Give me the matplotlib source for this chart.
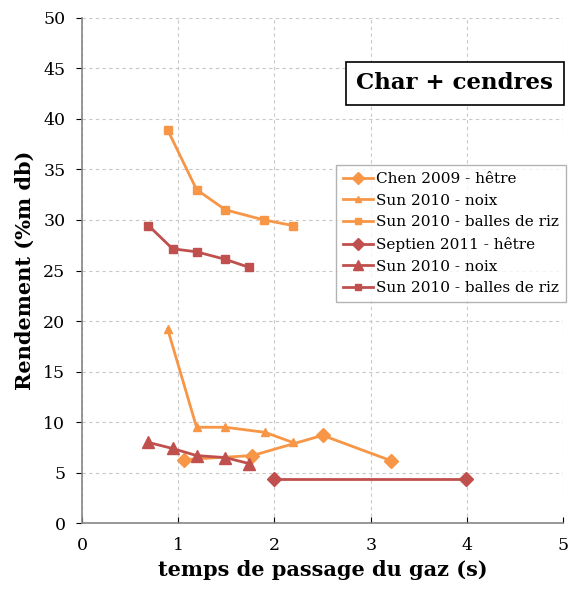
import matplotlib.pyplot as plt

plt.rcParams['font.family'] = ['DejaVu Serif']

orange = '#F79646'
red = '#C0504D'

# Chen 2009 - hetre
chen_x = [1.06, 1.77, 2.50, 3.21]
chen_y = [6.3, 6.7, 8.7, 6.2]
# Sun 2010 - noix (orange)
noix_x = [0.89, 1.19, 1.49, 1.90, 2.19]
noix_y = [19.2, 9.5, 9.5, 9.0, 8.0]
# Sun 2010 - balles de riz (orange)
riz_x = [0.89, 1.19, 1.49, 1.89, 2.19]
riz_y = [38.9, 33.0, 31.0, 30.0, 29.45]
# Septien 2011 - hetre
sept_x = [1.99, 3.99]
sept_y = [4.4, 4.4]
# Sun 2010 - noix (red)
noix2_x = [0.69, 0.94, 1.19, 1.49, 1.74]
noix2_y = [8.0, 7.4, 6.7, 6.5, 5.9]
# Sun 2010 - balles de riz (red)
riz2_x = [0.69, 0.94, 1.19, 1.49, 1.74]
riz2_y = [29.45, 27.15, 26.85, 26.1, 25.3]

fig = plt.figure(figsize=(5.74, 5.9), dpi=100)
ax = fig.add_axes([0.143, 0.113, 0.838, 0.857])

ax.plot(chen_x, chen_y, color=orange, lw=2, marker='D', ms=7.5, label='Chen 2009 - hêtre')
ax.plot(noix_x, noix_y, color=orange, lw=2, marker='^', ms=6, label='Sun 2010 - noix')
ax.plot(riz_x, riz_y, color=orange, lw=2, marker='s', ms=6, label='Sun 2010 - balles de riz')
ax.plot(sept_x, sept_y, color=red, lw=2, marker='D', ms=7.5, label='Septien 2011 - hêtre')
ax.plot(noix2_x, noix2_y, color=red, lw=2, marker='^', ms=9, label='Sun 2010 - noix')
ax.plot(riz2_x, riz2_y, color=red, lw=2, marker='s', ms=6, label='Sun 2010 - balles de riz')

ax.set_xlim(0, 5)
ax.set_ylim(0, 50)
ax.set_xticks(range(0, 6))
ax.set_yticks(range(0, 51, 5))
ax.grid(True, color='#c8c8c8', linestyle=(0, (3, 3)), lw=0.8)
ax.set_axisbelow(True)
for s in ['top', 'right']:
    ax.spines[s].set_visible(False)
for s in ['left', 'bottom']:
    ax.spines[s].set_color('#868686')
    ax.spines[s].set_linewidth(1.2)
ax.tick_params(axis='x', direction='in', length=4, labelsize=12.5, pad=10)
ax.tick_params(axis='y', direction='out', length=4, labelsize=12.5, pad=8)

ax.set_xlabel('temps de passage du gaz (s)', fontsize=15, fontweight='bold', labelpad=4)
ax.set_ylabel('Rendement (%m db)', fontsize=15, fontweight='bold', labelpad=6)

leg = fig.legend(loc='upper left', bbox_to_anchor=(0.585, 0.72), borderaxespad=0,
                 fontsize=11, frameon=True, fancybox=False, edgecolor='#a0a0a0',
                 handlelength=2.0, handletextpad=0.2, labelspacing=0.5,
                 borderpad=0.45, markerscale=0.8)
leg.get_frame().set_linewidth(1)

ax.text(3.875, 43.5, 'Char + cendres', ha='center', va='center',
        fontsize=16.5, fontweight='bold',
        bbox=dict(boxstyle='square,pad=0.45', fc='white', ec='black', lw=1.2))

fig.savefig('out.png', dpi=100)
